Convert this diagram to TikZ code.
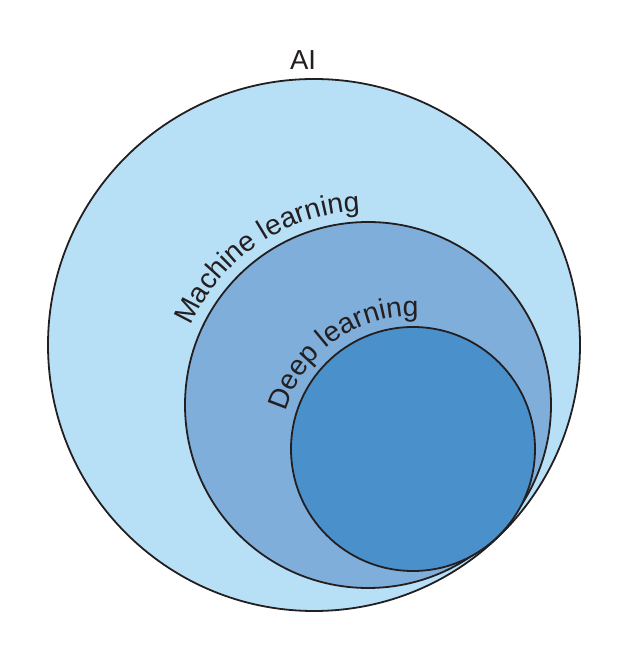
\documentclass[tikz,border=0pt]{standalone}
\usepackage{fontspec}
\setmainfont{Liberation Sans}
\usetikzlibrary{decorations.text}
\definecolor{linec}{HTML}{231F20}
\definecolor{aiblue}{RGB}{183,224,247}
\definecolor{mlblue}{RGB}{128,174,219}
\definecolor{dlblue}{RGB}{74,144,203}
\tikzset{
  ring/.style={draw=linec, line width=1.8pt},
  lbl/.style={font=\fontsize{27.5}{32}\selectfont, text=linec}
}
\begin{document}
\begin{tikzpicture}[x=1pt,y=1pt]
\useasboundingbox (0,0) rectangle (634,656);
\coordinate (oc) at (314,311);
\coordinate (mc) at (368,251);
\coordinate (ic) at (413,207);
\draw[ring, fill=aiblue] (oc) circle[radius=266];
\draw[ring, fill=mlblue] (mc) circle[radius=183];
\draw[ring, fill=dlblue] (ic) circle[radius=122];
\node[lbl, anchor=base] (ai) at (303,586) {AI};
\path[decorate, decoration={text along path, text color=linec,
  text={|\fontsize{28.3}{32}\selectfont|Machine learning}}]
  (mc) ++(156:194) arc[start angle=156, end angle=70, radius=194];
\path[decorate, decoration={text along path, text color=linec,
  text={|\fontsize{28.3}{32}\selectfont|Deep learning}}]
  (ic) ++(163.5:133) arc[start angle=163.5, end angle=60, radius=133];
\end{tikzpicture}
\end{document}
